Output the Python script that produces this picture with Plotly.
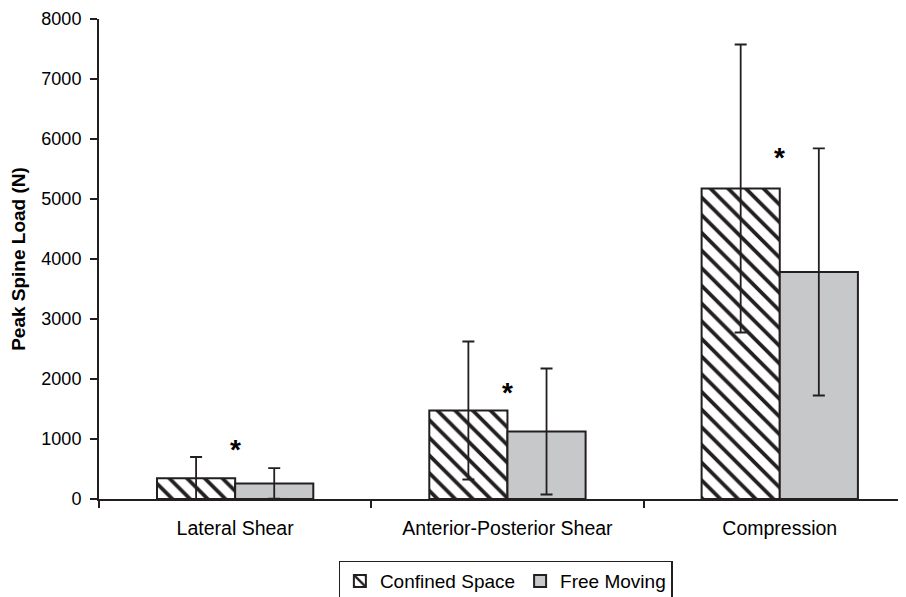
import plotly.graph_objects as go

categories = ["Lateral Shear", "Anterior-Posterior Shear", "Compression"]
confined = [345, 1475, 5175]
confined_err = [355, 1150, 2400]
free = [260, 1125, 3785]
free_err = [255, 1050, 2060]
star_y = [830, 1780, 5700]
y_ticks = [0, 1000, 2000, 3000, 4000, 5000, 6000, 7000, 8000]

FONT = "Liberation Sans, Arial, sans-serif"
DARK = "#231f20"

fig = go.Figure()
fig.add_trace(go.Bar(
    name="Confined Space", x=categories, y=confined,
    marker=dict(color="white", line=dict(color=DARK, width=2),
                pattern=dict(shape="\\", fgcolor=DARK, bgcolor="white", fgopacity=1,
                             size=12.5, solidity=0.3)),
    error_y=dict(type="data", array=confined_err, color=DARK, thickness=1.8, width=6),
))
fig.add_trace(go.Bar(
    name="Free Moving", x=categories, y=free,
    marker=dict(color="#c7c8ca", line=dict(color=DARK, width=2)),
    error_y=dict(type="data", array=free_err, color=DARK, thickness=1.8, width=6),
))

for c, sy in zip(categories, star_y):
    fig.add_annotation(x=c, y=sy, text="<b>*</b>", showarrow=False,
                       font=dict(family=FONT, size=28, color="black"),
                       xanchor="center", yanchor="middle")

fig.update_layout(
    width=906, height=597,
    margin=dict(l=91, r=0, t=11, b=106, autoexpand=False),
    paper_bgcolor="white", plot_bgcolor="white",
    barmode="group", bargap=0.426, bargroupgap=0,
    font=dict(family=FONT, size=18, color="black"),
    showlegend=True,
    legend=dict(orientation="h", x=0.499, xanchor="center", y=-0.129, yanchor="top",
                bordercolor=DARK, borderwidth=1.2, font=dict(size=19, family=FONT),
                itemwidth=30, tracegroupgap=0),
    xaxis=dict(range=[-0.5, 2.493], showline=True, linecolor=DARK, linewidth=2,
               ticks="outside", tickson="boundaries", ticklen=7, tickcolor=DARK,
               tickwidth=1.5, tickfont=dict(size=19.5), showgrid=False, zeroline=False,
               ticklabelstandoff=11, automargin=False),
    yaxis=dict(range=[0, 8000], tickvals=y_ticks, showline=True, linecolor=DARK, linewidth=2,
               ticks="outside", ticklen=7, tickcolor=DARK, tickwidth=1.5,
               showgrid=False, zeroline=False, automargin=False,
               tickfont=dict(size=18), ticklabelstandoff=5, ticklabeloverflow="allow",
               title=dict(text="<b>Peak Spine Load (N)</b>", font=dict(size=19), standoff=13)),
)

fig.write_html("out.html")
